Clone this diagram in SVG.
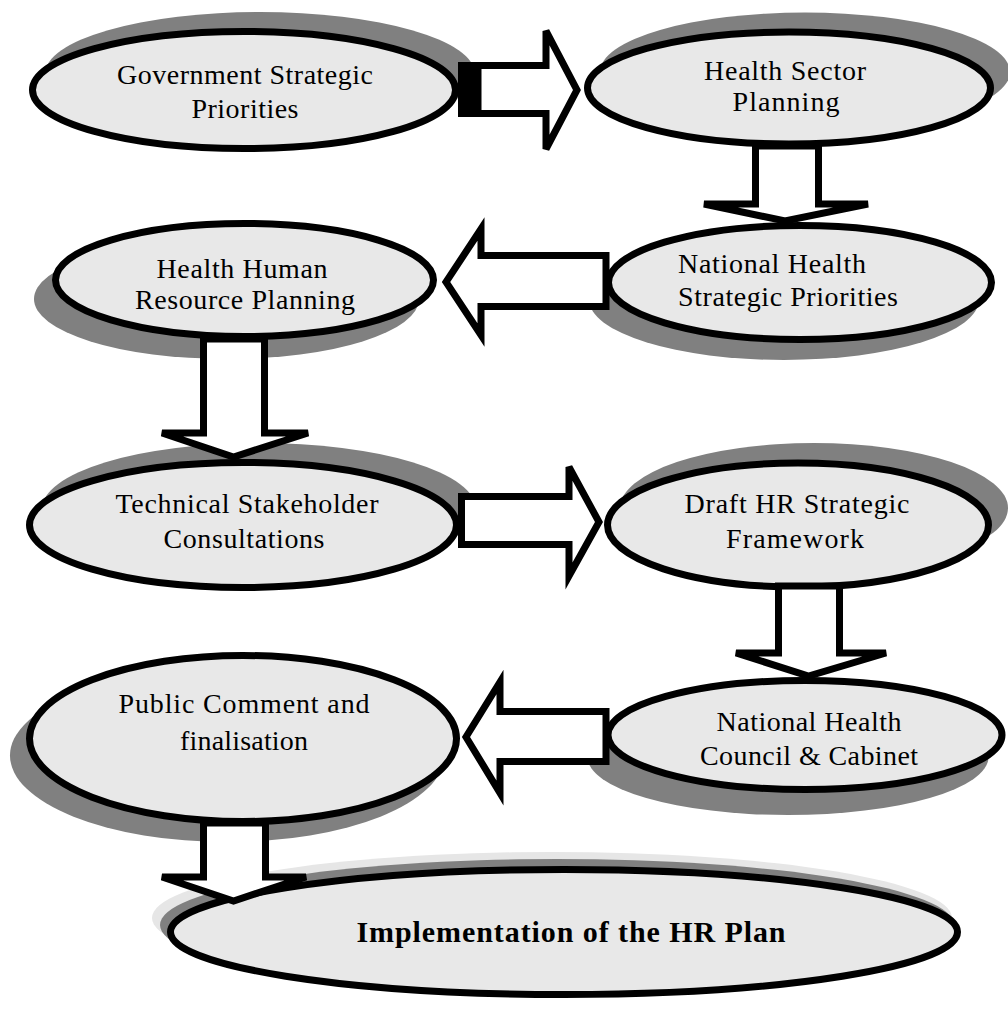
<svg xmlns="http://www.w3.org/2000/svg" width="1008" height="1034" viewBox="0 0 1008 1034">
<style>
.shadow{fill:#808080}
.shadow2{fill:#e6e6e6}
.node{fill:#e8e8e8;stroke:#000;stroke-width:7}
.lbl{font-family:"Liberation Serif","Times New Roman",serif;font-size:28px;fill:#000;text-anchor:middle}
.lft{text-anchor:start}
.bold{font-weight:bold;font-size:30px}
.arrow{fill:#fff;stroke:#000;stroke-width:7;stroke-linejoin:miter}
</style>
<rect width="1008" height="1034" fill="#fff"/>
<g id="n1">
<ellipse class="shadow" cx="260" cy="74" rx="215" ry="62"/>
<ellipse class="node" cx="244" cy="90" rx="211.5" ry="58.5"/>
<text class="lbl" x="245" y="84" textLength="256">Government Strategic</text>
<text class="lbl" x="245" y="118" textLength="107">Priorities</text>
</g>
<g id="n2">
<ellipse class="shadow" cx="805" cy="72" rx="205" ry="59.5"/>
<ellipse class="node" cx="789" cy="88" rx="201.5" ry="56"/>
<text class="lbl" x="785" y="80" textLength="162">Health Sector</text>
<text class="lbl" x="786" y="111" textLength="107">Planning</text>
</g>
<g id="n3">
<ellipse class="shadow" cx="784" cy="299.5" rx="195" ry="60.5"/>
<ellipse class="node" cx="800" cy="282.5" rx="191.5" ry="57"/>
<text class="lbl lft" x="678" y="273" textLength="188">National Health</text>
<text class="lbl lft" x="678" y="306" textLength="220">Strategic Priorities</text>
</g>
<g id="n4">
<ellipse class="shadow" cx="226.5" cy="299" rx="192.5" ry="60"/>
<ellipse class="node" cx="244.5" cy="280" rx="189" ry="56.5"/>
<text class="lbl" x="242" y="278" textLength="171">Health Human</text>
<text class="lbl" x="245" y="309" textLength="220">Resource Planning</text>
</g>
<g id="n5">
<ellipse class="shadow" cx="259" cy="509" rx="217" ry="66"/>
<ellipse class="node" cx="243" cy="525" rx="213.5" ry="62.5"/>
<text class="lbl" x="247" y="513" textLength="263">Technical Stakeholder</text>
<text class="lbl" x="244" y="548" textLength="161">Consultations</text>
</g>
<g id="n6">
<ellipse class="shadow" cx="814" cy="508" rx="194" ry="65"/>
<ellipse class="node" cx="798" cy="525" rx="190.5" ry="62"/>
<text class="lbl" x="797" y="513" textLength="225">Draft HR Strategic</text>
<text class="lbl" x="795" y="548" textLength="138">Framework</text>
</g>
<g id="n7">
<ellipse class="shadow" cx="227" cy="755.5" rx="217" ry="86.5"/>
<ellipse class="node" cx="243" cy="738.5" rx="213.5" ry="83"/>
<text class="lbl" x="244" y="713" textLength="251">Public Comment and</text>
<text class="lbl" x="244" y="750" textLength="128">finalisation</text>
</g>
<g id="n8">
<ellipse class="shadow" cx="788" cy="757" rx="200.5" ry="58"/>
<ellipse class="node" cx="805" cy="735" rx="197" ry="54.5"/>
<text class="lbl" x="809" y="731" textLength="185">National Health</text>
<text class="lbl" x="809" y="765" textLength="218">Council &amp; Cabinet</text>
</g>
<g id="n9">
<ellipse class="shadow2" cx="552" cy="918" rx="400" ry="66"/>
<ellipse class="shadow" cx="557" cy="925" rx="397" ry="66"/>
<ellipse class="node" cx="564" cy="932" rx="393.5" ry="62.5"/>
<text class="lbl bold" x="571" y="942" textLength="429">Implementation of the HR Plan</text>
</g>
<g id="connectors">
<rect x="458" y="62" width="24" height="55" fill="#000"/>
<polygon class="arrow" points="478,65.5 546,65.5 546,31 577,90 546,149 546,113.5 478,113.5"/>
<polygon class="arrow" points="755.5,146 818.5,146 818.5,204 868,204 785,221 704,204 755.5,204"/>
<polygon class="arrow" points="606,255.5 481,255.5 481,229 446,282 481,335 481,306.5 606,306.5"/>
<polygon class="arrow" points="203.5,339 264.5,339 264.5,433 308,433 233.5,457 162,433 203.5,433"/>
<polygon class="arrow" points="461.5,496.5 569,496.5 569,467 599,522 569,576 569,544.5 461.5,544.5"/>
<polygon class="arrow" points="778.5,586 839.5,586 839.5,653 886,653 808.5,676 736,653 778.5,653"/>
<polygon class="arrow" points="606,711.5 500,711.5 500,682 466,737 500,793 500,761.5 606,761.5"/>
<polygon class="arrow" points="203.5,823 265.5,823 265.5,877 306,877 233.5,901 162,877 203.5,877"/>
</g>
</svg>
